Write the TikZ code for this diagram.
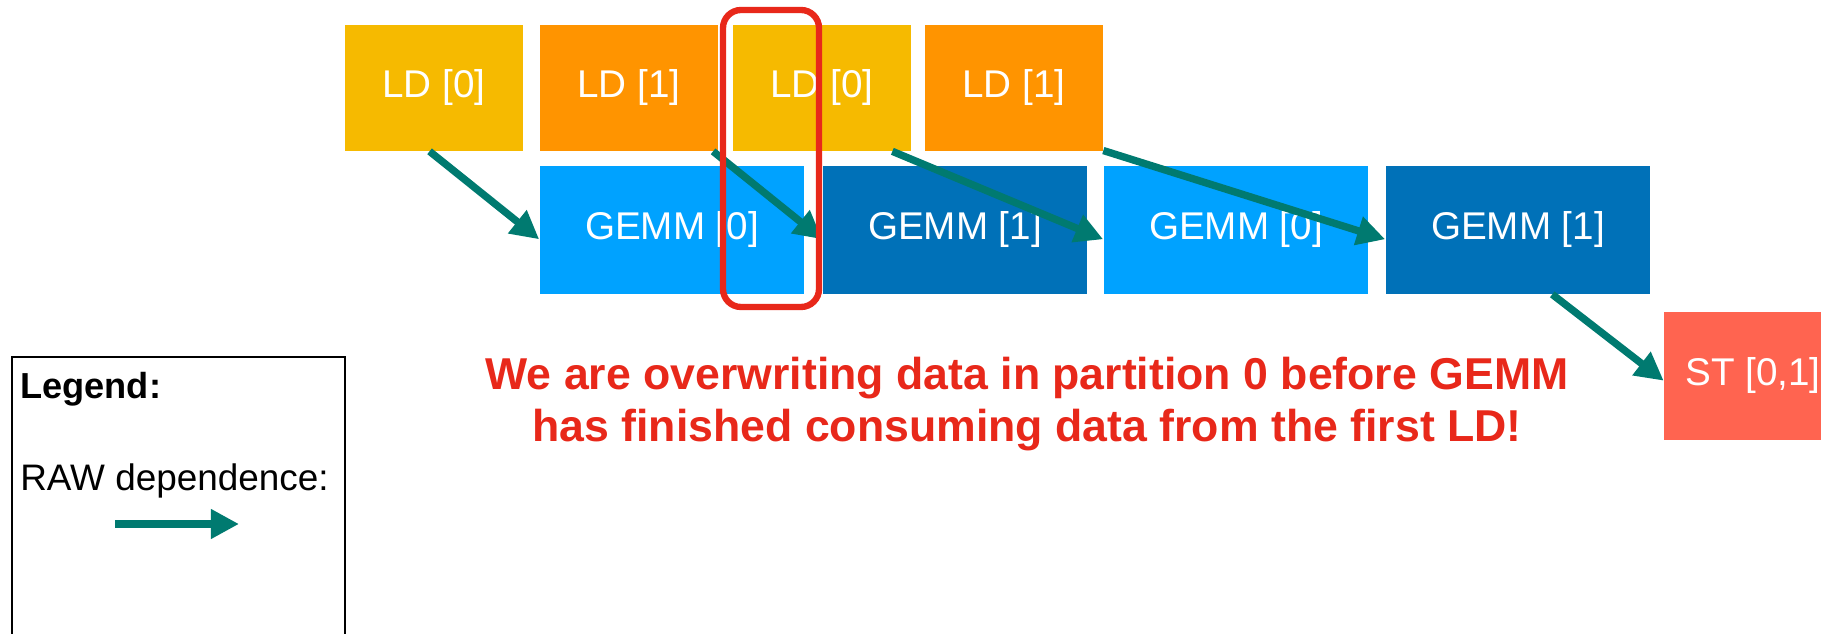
\documentclass[tikz,border=0pt]{standalone}
\usepackage{fontspec}
\setmainfont{Liberation Sans}
\usepackage{xcolor}
\usepackage{tikz}
\usetikzlibrary{arrows.meta}

\definecolor{ldzero}{HTML}{F6BA00}
\definecolor{ldone}{HTML}{FF9400}
\definecolor{gmzero}{HTML}{00A2FF}
\definecolor{gmone}{HTML}{0071B8}
\definecolor{stcol}{HTML}{FF6450}
\definecolor{rawcol}{HTML}{007A70}
\definecolor{alert}{HTML}{E8281A}

\tikzset{
  box/.style={inner sep=0pt, text=white, font=\fontsize{22}{26}\selectfont},
  ldbox/.style={box, minimum width=3.56cm, minimum height=2.52cm},
  gmbox/.style={box, minimum width=5.3cm, minimum height=2.56cm},
  dep/.style={->, draw=rawcol, line width=4.2pt}
}

\begin{document}
\begin{tikzpicture}[x=0.02cm, y=-0.02cm, >={Triangle[length=16pt,width=16pt]}]

\clip (0,0) rectangle (1821,634);

% loads and gemms
\foreach \n/\x/\c/\t in {lda/434/ldzero/0, ldb/629/ldone/1, ldc/822/ldzero/0, ldd/1014/ldone/1}
{
	\node[ldbox, fill=\c] (\n) at (\x,88) {LD [\t]};
}
\foreach \n/\x/\c/\t in {gma/672/gmzero/0, gmb/955/gmone/1, gmc/1236/gmzero/0, gmd/1518/gmone/1}
{
	\node[gmbox, fill=\c] (\n) at (\x,230) {GEMM [\t]};
}
\node[gmbox, minimum width=3.56cm, fill=stcol] (st) at (1753,376) {ST [0,1]};

% dependences
\draw[dep] (lda.-94) -- (gma.184);
\draw[dep] (ldb.-37) -- (gmb.184);
\draw[dep] (ldc.-42) -- (gmc.184);
\draw[dep] (ldd.-35) -- (gmd.184);
\draw[dep] (gmd.-62) -- (st.183);

\node[align=center, text=alert, font=\bfseries\fontsize{25.4}{29.5}\selectfont] (msg) at (1027,404)
	{We are overwriting data in partition 0 before GEMM\\has finished consuming data from the first LD!};

% legend
\draw[line width=1.1pt] (12,357) rectangle (345,680);
\node[anchor=west, inner sep=0pt, font=\bfseries\fontsize{20.6}{24}\selectfont] (legtitle) at (20,389) {Legend:};
\node[anchor=west, inner sep=0pt, font=\fontsize{21}{24}\selectfont] (legraw) at (20,481) {RAW dependence:};
\coordinate (rawa) at (115,524);
\coordinate (rawb) at (239,524);
\draw[dep] (rawa) -- (rawb);

% conflicting region
\draw[alert, line width=3.6pt, rounded corners=0.36cm] (723,10) rectangle (819,307);

\end{tikzpicture}
\end{document}
